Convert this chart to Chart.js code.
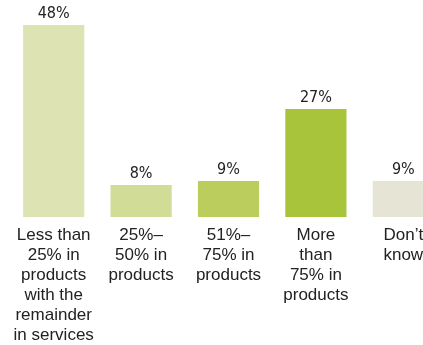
<!DOCTYPE html>
<html>
<head>
<meta charset="utf-8">
<script src="https://cdn.jsdelivr.net/npm/chart.js@4/dist/chart.umd.min.js"></script>
<style>
    html, body { margin: 0; padding: 0; background: #fff; overflow: hidden; }
    #wrap { width: 447px; height: 345px; }
</style>
</head>
<body>
<div id="wrap"><canvas id="myChart" width="447" height="345"></canvas></div>
<script>
// categories (each one split into lines as in the picture)
const categories = [
    ['Less than', '25% in', 'products', 'with the', 'remainder', 'in services'],
    ['25%\u2013', '50% in', 'products'],
    ['51%\u2013', '75% in', 'products'],
    ['More', 'than', '75% in', 'products'],
    ['Don\u2019t', 'know'],
]
const shares = [48, 8, 9, 27, 9]
const barColors = ['#dde3b3', '#d1dc97', '#bacd5d', '#a8c43b', '#e5e4d5']

// value labels on top of the bars
const valueLabels = {
    id: 'valueLabels',
    afterDatasetsDraw(chart) {
        const ctx = chart.ctx
        const meta = chart.getDatasetMeta(0)
        ctx.save()
        ctx.font = '16px "Liberation Sans Narrow", "DejaVu Sans Condensed", sans-serif'
        ctx.fillStyle = '#222'
        ctx.textAlign = 'center'
        ctx.textBaseline = 'alphabetic'
        meta.data.forEach(function (bar, i) {
            ctx.fillText(shares[i] + '%', bar.x, bar.y - 7)
        })
        ctx.restore()
    },
}

const ctx = document.getElementById('myChart').getContext('2d')
const myChart = new Chart(ctx, {
    type: 'bar',
    data: {
        labels: categories,
        datasets: [
            {
                data: shares,
                backgroundColor: barColors,
                borderWidth: 0,
                barPercentage: 1,
                categoryPercentage: 0.7,
            },
        ],
    },
    options: {
        responsive: false,
        animation: false,
        layout: {
            padding: { top: 17, left: 10, right: 0, bottom: 0 },
        },
        plugins: {
            legend: { display: false },
            tooltip: { enabled: false },
        },
        scales: {
            x: {
                grid: { display: false },
                border: { display: false },
                // keep the label band at a fixed height so the baseline sits at y=217
                afterFit: function (scale) {
                    scale.height = 128
                },
                ticks: {
                    color: '#222',
                    padding: 0,
                    maxRotation: 0,
                    autoSkip: false,
                    font: { family: '"Liberation Sans", Arial, sans-serif', size: 17, lineHeight: 1.18 },
                },
            },
            y: {
                display: false,
                min: 0,
                max: 50,
            },
        },
    },
    plugins: [valueLabels],
})
</script>
</body>
</html>
